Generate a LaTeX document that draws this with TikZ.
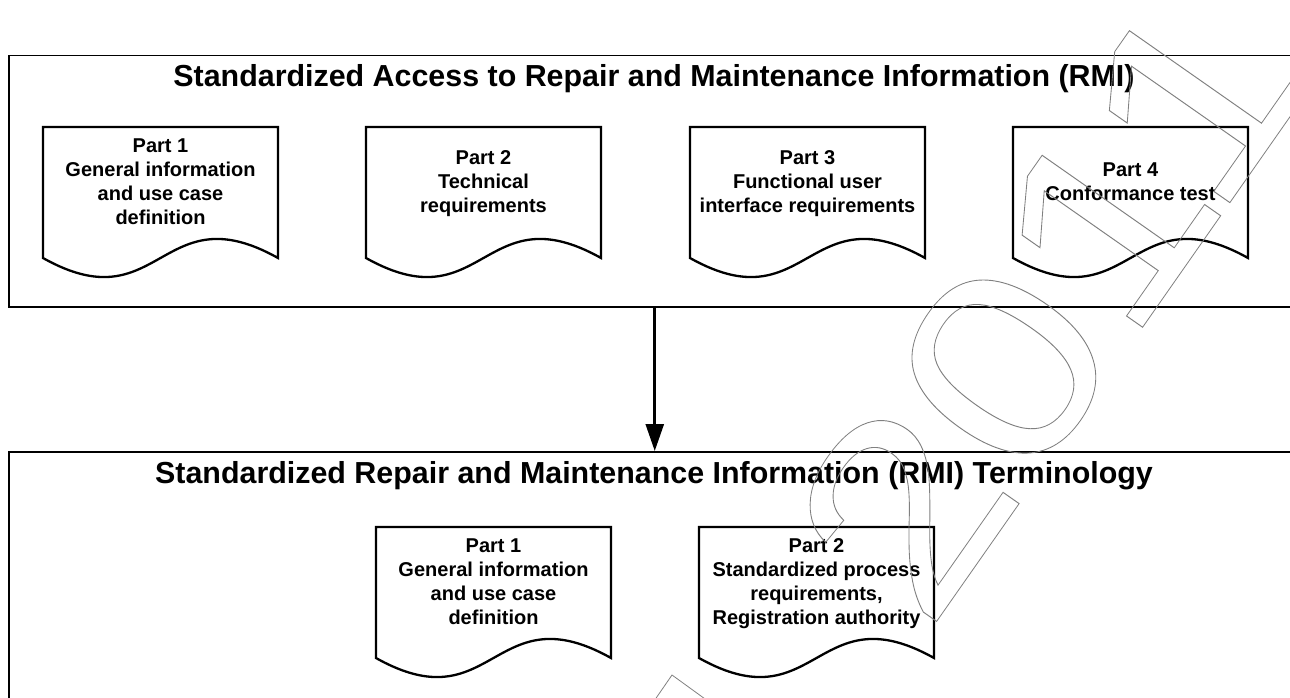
\documentclass[tikz,border=0pt]{standalone}
\usepackage{fontspec}
\setmainfont{Liberation Sans}
\usetikzlibrary{arrows.meta}

\definecolor{stampgray}{RGB}{128,128,128}

\tikzset{
  panel/.style={draw=black, line width=1.5pt, inner sep=0pt, anchor=north west},
  sheet/.style={draw=black, line width=2.3pt, fill=white, line join=miter},
  sheettext/.style={font=\bfseries\fontsize{20}{24}\selectfont, align=center,
                    inner sep=0pt, anchor=north},
  heading/.style={font=\bfseries\fontsize{30.4}{36}\selectfont, inner sep=0pt, anchor=base},
  flow/.style={line width=2.6pt, -{Triangle[width=18pt,length=27pt]}},
  stamp/.style={transform shape, inner sep=0pt, text=stampgray,
                font=\fontsize{263}{263}\selectfont},
  stampline/.style={draw=stampgray, line width=0.8pt}
}

% document sheet: name, left x, top y, y of the text top, text
\newcommand\docsheet[5]{%
  \draw[sheet] (#2,#3) -- (#2+235,#3) -- (#2+235,#3+131)
    .. controls (#2+117.5,#3+65) and (#2+117.5,#3+197) .. (#2,#3+131) -- cycle;
  \node[sheettext] (#1) at (#2+117.5,#4) {#5};
}

\begin{document}
\begin{tikzpicture}[x=1pt, y=-1pt]
  \path[use as bounding box] (0,0) rectangle (1290,698);
  \clip (0,0) rectangle (1290,698);

  % the two frames
  \node[panel, minimum width=1292pt, minimum height=251pt] (access) at (8,55) {};
  \node[panel, minimum width=1292pt, minimum height=320pt] (terms) at (8,451) {};

  \node[heading] (accessTitle) at (654,87)
    {Standardized Access to Repair and Maintenance Information (RMI)};
  \node[heading] (termsTitle) at (654,483)
    {Standardized Repair and Maintenance Information (RMI) Terminology};

  % parts of the access standard
  \docsheet{a1}{43}{127}{138.7}{Part 1\\General information\\and use case\\definition}
  \docsheet{a2}{366}{127}{150.7}{Part 2\\Technical\\requirements}
  \docsheet{a3}{690}{127}{150.7}{Part 3\\Functional user\\interface requirements}
  \docsheet{a4}{1013}{127}{162.7}{Part 4\\Conformance test}

  % parts of the terminology standard
  \docsheet{t1}{376}{527}{538.7}{Part 1\\General information\\and use case\\definition}
  \docsheet{t2}{699}{527}{538.7}{Part 2\\Standardized process\\requirements,\\Registration authority}

  \draw[flow] (access.south) -- (terms.north);

  % outlined year stamp across the page
  \begin{scope}[shift={(1048,304.5)}, rotate=55, xscale=1.2]
    \node[stamp] (year) at (0,0)
      {\special{pdf:literal direct 1 Tr 0.8 w}2011\special{pdf:literal direct 0 Tr}};
  \end{scope}
  \draw[stampline] (652,704) -- (672,675) -- (712,704);
\end{tikzpicture}
\end{document}
